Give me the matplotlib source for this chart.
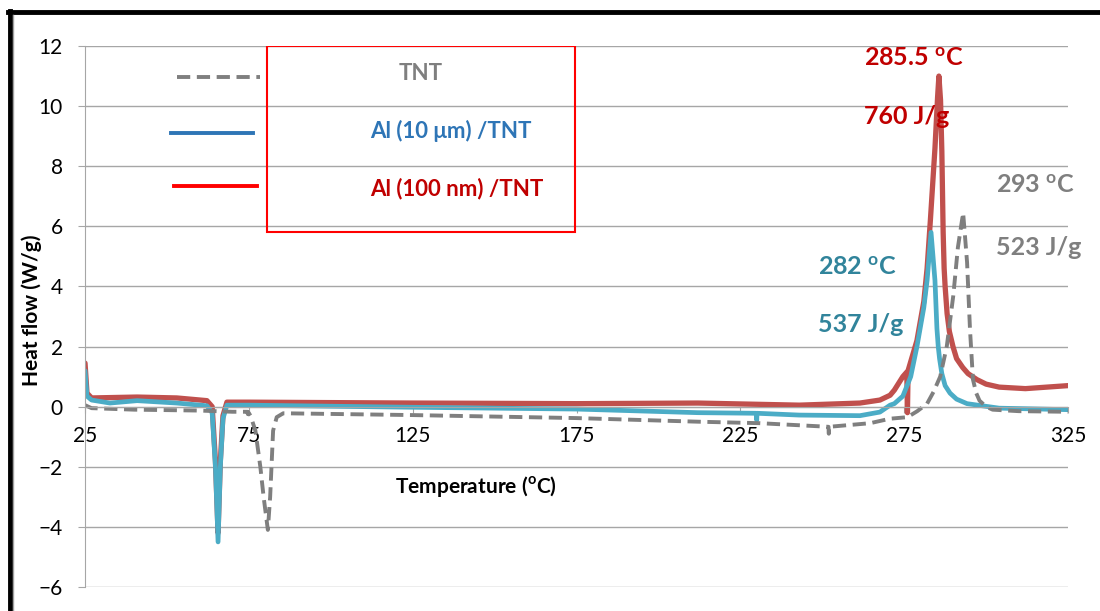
import matplotlib
matplotlib.use('Agg')
import matplotlib.pyplot as plt
from matplotlib.lines import Line2D
from matplotlib.patches import Rectangle

plt.rcParams['font.family'] = ['Lato', 'DejaVu Sans']
plt.rcParams['mathtext.fontset'] = 'custom'
plt.rcParams['mathtext.rm'] = 'Lato'
plt.rcParams['mathtext.bf'] = 'Lato:bold'

# TNT (grey dashed)
tnt_T = [25, 27, 40, 60, 70, 74.6, 74.7, 74.8, 75.5, 77, 78.5, 79.5, 80.8, 81.5, 82.4, 83.5, 85.5,
         125, 175, 212, 231, 251.9, 252, 252.1, 264.6, 270.7, 276, 279, 282, 284, 286, 288, 290,
         291.4, 293, 294.2, 295.1, 296, 297, 298, 300, 302, 310, 325]
tnt_Q = [0.05, -0.05, -0.1, -0.13, -0.17, -0.17, -0.25, -0.18, -0.3, -0.8, -2.0, -3.0, -4.1, -3.0,
         -0.8, -0.35, -0.22, -0.28, -0.38, -0.5, -0.55, -0.67, -0.9, -0.67, -0.55, -0.4, -0.35,
         -0.15, 0.1, 0.5, 1.0, 2.0, 3.7, 5.3, 6.45, 4.8, 2.55, 0.9, 0.45, 0.2, 0.0, -0.1, -0.15, -0.17]

# Al (10 um)/TNT (blue)
al10_T = [25, 25.6, 27, 32.6, 40.9, 53, 62.2, 63.8, 64.8, 65.6, 66.3, 67.1, 68.3, 75, 125, 175,
          212, 229.9, 230, 230.1, 243, 261.5, 267.6, 270.7, 272, 274.6, 277, 278.9, 281, 282,
          283.2, 284.4, 285, 285.4, 285.8, 286.5, 287.5, 289, 291, 294.2, 304, 325]
al10_Q = [1.2, 0.35, 0.22, 0.12, 0.2, 0.12, 0.03, -0.2, -2.0, -4.5, -2.0, -0.4, 0.05, 0.05, -0.02,
          -0.08, -0.2, -0.22, -0.45, -0.22, -0.28, -0.3, -0.18, 0.05, 0.1, 0.35, 1.0, 2.0, 3.3,
          4.2, 5.8, 4.2, 2.6, 2.0, 1.6, 1.1, 0.7, 0.45, 0.25, 0.1, -0.05, -0.1]

# Al (100 nm)/TNT (red)
al100_T = [25, 25.6, 27, 40.9, 53, 62.2, 63.8, 64.8, 65.6, 66.3, 67.1, 68.3, 75, 125, 175, 212,
           243, 261.5, 267.6, 270.7, 272, 274.6, 275.8, 276, 276.2, 278.9, 281, 282, 283, 284.4,
           285.2, 285.6, 286.1, 286.5, 286.9, 287.2, 287.5, 288.1, 288.8, 289.9, 291, 292.9,
           294.5, 297.2, 300, 304, 312, 325]
al100_Q = [1.45, 0.45, 0.29, 0.32, 0.29, 0.2, 0.0, -1.8, -4.2, -1.8, -0.3, 0.15, 0.15, 0.12, 0.1,
           0.12, 0.05, 0.12, 0.22, 0.38, 0.55, 1.0, 1.15, -0.2, 1.2, 2.2, 3.5, 4.6, 6.2, 8.6,
           10.3, 11.0, 10.2, 8.5, 5.8, 4.6, 4.0, 3.1, 2.5, 2.0, 1.6, 1.3, 1.1, 0.9, 0.75, 0.65,
           0.6, 0.7]

x_ticks = [25, 75, 125, 175, 225, 275, 325]
y_ticks = [-6, -4, -2, 0, 2, 4, 6, 8, 10, 12]

grey = '#7f7f7f'
blue = '#4bacc6'
red = '#c0504d'
grid_c = '#a6a6a6'

fig = plt.figure(figsize=(11, 6.11), dpi=100)
ax = fig.add_axes([0.0773, 0.0393, 0.8936, 0.8854])

ax.plot(al100_T, al100_Q, color=red, lw=3.8, solid_capstyle='round', solid_joinstyle='round')
ax.plot(al10_T, al10_Q, color=blue, lw=3.4, solid_capstyle='round', solid_joinstyle='round')
ax.plot(tnt_T, tnt_Q, color=grey, lw=2.8, dashes=(3.4, 1.7))

ax.set_xlim(25, 325)
ax.set_ylim(-6, 12)
ax.set_xticks(x_ticks)
ax.set_yticks(y_ticks)
ax.yaxis.grid(True, color=grid_c, lw=1)
ax.set_axisbelow(True)

for s in ['top', 'right']:
    ax.spines[s].set_visible(False)
ax.spines['bottom'].set_position(('data', 0))
ax.spines['bottom'].set_color(grid_c)
ax.spines['left'].set_color(grid_c)
ax.tick_params(axis='y', direction='out', length=5, color=grid_c, pad=11, labelsize=15)
ax.tick_params(axis='x', direction='out', length=4, color=grid_c, pad=10, labelsize=15)

ax.text(0.398, 0.185, r'Temperature ($^{\mathbf{o}}$C)', transform=ax.transAxes,
        ha='center', va='center', fontsize=15, fontweight='bold')
fig.text(0.029, 0.4926, 'Heat flow (W/g)', rotation=90, ha='center', va='center',
         fontsize=15, fontweight='bold')

# legend drawn by hand: lines sit left of the red box
ax.add_patch(Rectangle((0.185, 0.656), 0.3135, 0.344, transform=ax.transAxes,
                       fill=False, edgecolor='#ff0000', lw=1.5, zorder=5))
ax.add_line(Line2D([0.094, 0.178], [0.943, 0.943], transform=ax.transAxes,
                   color=grey, lw=2.8, dashes=(3.4, 1.7)))
ax.add_line(Line2D([0.087, 0.171], [0.839, 0.839], transform=ax.transAxes,
                   color='#2e75b6', lw=2.8))
ax.add_line(Line2D([0.091, 0.175], [0.741, 0.741], transform=ax.transAxes,
                   color='#ff0000', lw=2.8))
ax.text(0.341, 0.950, 'TNT', transform=ax.transAxes, ha='center', va='center',
        fontsize=16, fontweight='bold', color=grey)
ax.text(0.290, 0.843, 'Al (10 \u03bcm) /TNT', transform=ax.transAxes, ha='left', va='center',
        fontsize=16, fontweight='bold', color='#2e75b6')
ax.text(0.290, 0.736, 'Al (100 nm) /TNT', transform=ax.transAxes, ha='left', va='center',
        fontsize=16, fontweight='bold', color='#c00000')

# peak annotations
ax.text(262.7, 11.6, r'285.5 $^{\mathbf{o}}$C', ha='left', va='center', fontsize=18,
        fontweight='bold', color='#c00000')
ax.text(262.7, 9.64, '760 J/g', ha='left', va='center', fontsize=18,
        fontweight='bold', color='#c00000')
ax.text(303, 7.37, r'293 $^{\mathbf{o}}$C', ha='left', va='center', fontsize=18,
        fontweight='bold', color=grey)
ax.text(303, 5.3, '523 J/g', ha='left', va='center', fontsize=18,
        fontweight='bold', color=grey)
ax.text(248.7, 4.64, r'282 $^{\mathbf{o}}$C', ha='left', va='center', fontsize=18,
        fontweight='bold', color='#31849b')
ax.text(248.7, 2.72, '537 J/g', ha='left', va='center', fontsize=18,
        fontweight='bold', color='#31849b')

# black frame on top and left edges
fig.add_artist(Line2D([0.0073, 1.0], [0.9804, 0.9804], transform=fig.transFigure,
                      color='black', lw=3.5))
fig.add_artist(Line2D([0.0091, 0.0091], [0.0, 0.982], transform=fig.transFigure,
                      color='black', lw=3.5))
fig.add_artist(Line2D([0.0118, 0.0118], [0.0, 0.976], transform=fig.transFigure,
                      color='#a0a0a0', lw=1))

fig.savefig('out.png', dpi=100)
